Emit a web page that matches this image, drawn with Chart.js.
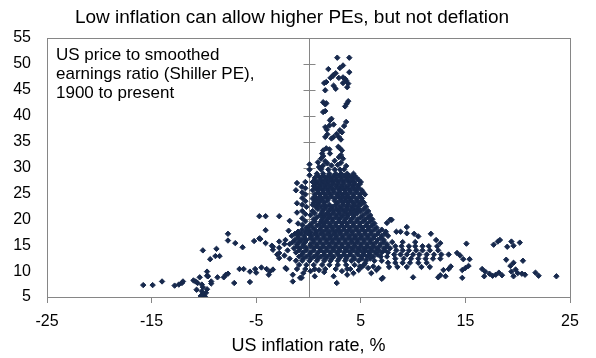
<!DOCTYPE html>
<html>
<head>
<meta charset="utf-8">
<script src="https://cdn.jsdelivr.net/npm/chart.js@4.4.0/dist/chart.umd.min.js"></script>
<style>
  html, body { margin: 0; padding: 0; background: #fff; }
</style>
</head>
<body>
<canvas id="scatter" width="596" height="358"></canvas>
<script>
// [inflation %, Shiller PE] pairs
var deflationYears = [[-15.8,7.3],[-14.9,7.3],[-14.0,8.0],[-12.8,7.2],[-12.4,7.4],[-12.1,7.7],[-12.0,8.0],[-11.0,8.2],[-10.8,8.0],[-10.6,7.7],[-10.4,8.8],[-10.2,7.4],[-10.1,6.9],[-10.7,6.4],[-10.2,6.1],[-10.1,5.6],[-9.8,5.8],[-9.9,5.1],[-10.3,5.2],[-9.7,6.5],[-9.7,9.9],[-9.7,9.1],[-9.6,9.0],[-9.3,7.6],[-9.3,8.0],[-10.1,14.0],[-9.4,12.3],[-8.9,12.9],[-8.5,12.9],[-8.8,14.3],[-8.7,8.8],[-8.1,8.8],[-7.9,9.3],[-7.7,9.5],[-7.7,17.2],[-7.7,15.9],[-7.0,15.4],[-7.1,7.7],[-6.6,10.4],[-6.3,14.6],[-6.2,10.4],[-5.6,9.9],[-5.6,7.9],[-5.2,15.8],[-5.1,10.4],[-5.0,9.7],[-4.7,16.3],[-4.7,20.6],[-4.6,16.2],[-4.5,10.7],[-4.1,15.4],[-4.0,10.4],[-3.7,9.9],[-3.4,10.3],[-3.8,9.3],[-2.2,10.6],[-2.1,10.4],[-1.5,9.3],[-1.5,8.0],[-0.8,8.7],[-0.65,8.7],[-0.5,9.6]];

var lowInflationEdge = [[-4.1,20.6],[-2.8,20.6],[-4.1,17.9],[-1.8,19.7],[-1.9,17.8],[-1.1,27.0],[-1.2,25.6],[-1.1,23.1],[-1.1,21.3],[-1.0,19.2],[-1.0,17.3],[-0.65,26.3],[-0.6,25.2],[-0.6,24.1],[-0.6,22.8],[-0.6,21.6],[-0.6,20.2],[-0.6,18.9],[-0.3,27.2],[-0.3,26.0],[-0.3,24.8],[-0.3,23.5],[-0.2,22.4],[-0.3,21.0],[-0.3,19.6],[0.1,28.5],[0.1,29.6],[0.1,30.6],[-3.4,14.7],[-3.4,14.1],[-3.0,13.2],[-2.8,15.7],[-2.8,14.5],[-2.8,13.5],[-2.8,12.5],[-2.3,15.2],[-2.3,13.0],[-2.0,14.0],[-1.8,12.4],[-3.5,14.9],[-2.2,16.0]];

// dense core: PE level with the inflation readings seen along it
var coreRows = [
  [29.6, [1.2,1.9,2.5,3.0,3.4]],
  [28.8, [0.8,1.4,2.0,2.6,3.1,3.7,4.3]],
  [28.4, [0.9,1.4,1.9,2.4,2.9,3.4,3.9,4.4]],
  [28.0, [0.6,1.1,1.6,2.1,2.6,3.1,3.6,4.1,4.6]],
  [27.6, [0.6,1.2,1.7,2.2,2.7,3.2,3.7,4.2,4.8]],
  [27.2, [0.4,0.9,1.4,1.9,2.4,2.9,3.4,3.9,4.4,5.0]],
  [26.8, [0.7,1.2,1.7,2.3,2.8,3.3,3.9,4.4,4.9]],
  [26.4, [0.5,1.0,1.5,2.0,2.6,3.1,3.6,4.2,4.7]],
  [26.0, [0.7,1.2,1.7,2.2,2.8,3.3,3.8,4.3,4.8]],
  [25.6, [0.4,0.9,1.4,1.9,2.4,3.0,3.5,4.0,4.5,5.1]],
  [25.2, [0.9,1.4,1.9,2.4,2.9,3.5,4.0,4.6,5.2]],
  [24.8, [0.6,1.1,1.6,2.1,2.7,3.2,3.7,4.3,4.9,5.4]],
  [24.4, [0.6,1.1,1.7,2.2,2.8,3.3,3.8,4.3,4.9]],
  [24.0, [0.4,0.9,1.4,1.9,2.5,3.0,3.5,4.0,4.6,5.1]],
  [23.6, [0.7,1.2,1.8,2.5,3.1,3.6,4.1,4.6,5.1]],
  [23.2, [0.5,1.0,1.5,2.8,3.3,3.8,4.3,4.8,5.3]],
  [22.8, [0.4,0.9,1.5,2.0,2.6,3.3,3.8,4.4,5.0]],
  [22.4, [0.7,1.2,1.7,2.3,3.0,3.6,4.1,4.7,5.5]],
  [22.0, [0.9,1.5,2.1,2.7,3.2,3.7,4.3,4.8,5.3]],
  [21.6, [0.4,1.3,1.9,2.4,2.9,3.4,4.0,4.5,5.0,5.7]],
  [21.2, [0.6,1.3,1.8,2.4,3.0,3.6,4.1,4.7,5.5]],
  [20.8, [0.2,1.1,1.6,2.1,2.7,3.3,3.8,4.4,5.2,5.9]],
  [20.4, [0.8,1.4,2.0,2.6,3.1,3.7,4.3,5.0,5.7]],
  [20.0, [0.5,1.3,1.8,2.3,2.9,3.5,4.1,4.7,5.4,6.1]],
  [19.6, [0.6,1.2,1.7,2.3,2.9,3.4,4.0,4.6,5.2,5.9]],
  [19.2, [0.3,1.1,1.5,2.0,2.6,3.2,3.7,4.3,4.9,5.6,6.3]],
  [18.8, [0.1,0.8,1.5,2.1,2.6,3.2,3.7,4.3,4.9,5.5,6.1]],
  [18.4, [-0.2,0.4,1.2,1.8,2.3,2.9,3.4,4.0,4.6,5.2,5.8,6.5]],
  [18.0, [-0.6,0.0,0.6,1.1,1.7,2.3,2.8,3.4,3.9,4.5,5.1,5.7,6.3,7.0]],
  [17.6, [-1.0,-0.3,0.2,0.8,1.4,2.0,2.6,3.1,3.7,4.2,4.8,5.4,6.0,6.7,7.4]],
  [17.2, [-1.3,-0.7,0.0,0.6,1.2,1.8,2.4,3.0,3.6,4.2,4.8,5.4,6.0,6.6,7.3]],
  [16.8, [-1.6,-1.0,-0.4,0.3,0.9,1.5,2.1,2.7,3.3,3.9,4.5,5.1,5.7,6.3,7.0,7.6]],
  [16.4, [-1.0,-0.4,0.2,0.8,1.4,2.0,2.6,3.2,3.8,4.4,5.0,5.6,6.2,6.9]],
  [16.0, [-1.3,-0.7,-0.2,0.5,1.1,1.7,2.3,2.9,3.5,4.1,4.7,5.3,5.9,6.6,7.2]],
  [15.6, [-1.5,-0.9,-0.3,0.5,1.1,1.7,2.3,2.9,3.5,4.1,4.7,5.3,5.9,6.5,7.2]],
  [15.2, [-1.8,-1.1,-0.5,0.2,0.8,1.4,2.0,2.6,3.2,3.8,4.4,5.0,5.6,6.2,6.9,7.5]],
  [14.8, [-1.1,-0.5,0.2,0.8,1.4,2.0,2.6,3.2,3.8,4.4,5.0,5.6,6.2,6.8,7.5]],
  [14.4, [-1.4,-0.8,-0.2,0.5,1.1,1.7,2.3,2.9,3.5,4.1,4.7,5.3,5.9,6.5,7.2,7.8]],
  [14.0, [-0.9,-0.2,0.5,1.2,1.8,2.4,3.0,3.7,4.3,4.9,5.5,6.1,6.7,7.3]],
  [13.6, [-1.2,-0.5,0.2,0.9,1.5,2.1,2.7,3.4,4.0,4.6,5.2,5.8,6.4,7.0,7.6]],
  [13.2, [-0.6,0.1,0.8,1.5,2.1,2.8,3.4,4.0,4.7,5.3,5.9,6.6]],
  [12.8, [-0.9,-0.2,0.5,1.2,1.8,2.4,3.1,3.7,4.3,5.0,5.6,6.2,6.9,7.5]],
  [12.4, [-0.5,0.2,0.9,1.6,2.2,2.9,3.6,4.4,5.1,5.9]],
  [12.0, [-1.2,-0.6,0.1,0.8,1.5,2.1,2.8,3.5,4.1,4.8,5.5,6.3,7.0]],
  [11.2, [-0.9,-0.2,0.5,1.3,2.0,2.8,3.6,4.4,5.3]],
  [10.4, [-1.1,-0.3,0.6,1.6,2.6,3.7]]
];

var highInflationRows = [
  [15.6, [8.0,9.0,10.2]],
  [14.8, [8.3,8.9,9.6,10.2,10.9,11.5,12.3]],
  [14.0, [8.4,9.0,9.6,10.3,10.9,11.6,12.4]],
  [13.2, [8.2,8.8,9.4,10.0,10.6,11.3,12.0,12.7,13.4]],
  [12.4, [8.3,9.1,9.8,10.5,11.2,11.9,12.6]],
  [11.6, [7.6,8.3,9.0,9.7,10.5,11.3]],
  [10.8, [7.7,8.5,9.4,10.8,11.6]]
];

var coreFringe = [[2.7,7.7],[2.4,9.0],[3.7,9.3],[4.3,9.6],[4.9,10.9],[5.4,11.5],[5.7,10.6],[6.2,10.9],[6.7,10.6],[7.1,8.7],[6.0,9.6],[6.5,10.2],[4.8,10.2],[5.1,10.8],[7.0,8.5],[0.6,9.0],[0.2,10.0],[1.5,9.8],[1.0,10.2],[3.2,10.0],[4.0,10.4],[7.95,19.9],[7.5,19.3],[7.8,19.9],[8.4,17.6],[8.8,17.6],[9.4,18.5],[9.4,17.3],[10.1,17.2],[10.5,16.7],[11.7,17.2],[12.2,16.0],[12.6,15.4]];

var highInflationTail = [[15.1,15.3],[10.0,8.8],[12.4,8.8],[12.6,9.2],[13.1,9.0],[12.9,10.2],[13.4,10.4],[13.6,10.9],[14.2,13.5],[14.5,13.0],[14.8,12.3],[15.4,12.3],[14.7,10.2],[15.0,10.6],[15.3,11.0],[14.7,8.7],[16.6,10.4],[16.9,9.9],[16.8,9.0],[17.3,9.5],[17.6,9.1],[17.9,9.3],[18.2,9.7],[18.5,9.2],[17.7,15.1],[18.1,15.7],[18.3,16.0],[19.0,14.7],[19.4,15.7],[19.6,14.9],[20.2,15.5],[18.9,12.2],[19.3,11.0],[19.6,11.6],[20.5,12.0],[19.4,9.9],[19.8,10.3],[20.0,9.6],[20.4,9.5],[20.7,9.3],[19.6,9.0],[21.7,9.7],[22.0,9.1],[23.7,9.0]];

var bubbleSpike = [[2.75,51.2],[3.9,51.2],[3.3,49.7],[3.0,49.2],[1.9,49.0],[2.6,48.2],[2.4,47.9],[3.9,48.4],[2.1,47.3],[2.3,47.6],[2.9,47.3],[3.3,47.4],[3.5,47.1],[1.7,46.5],[1.5,46.3],[3.3,46.3],[3.6,46.8],[2.4,45.8],[3.7,45.5],[3.8,46.2],[1.6,44.9],[2.6,45.2],[1.4,42.6],[1.6,42.2],[1.7,42.4],[1.4,40.7],[1.6,40.9],[3.8,42.8],[3.65,42.3],[3.5,41.8],[2.05,39.1],[2.2,39.4],[2.0,38.1],[1.6,37.8],[1.75,37.3],[2.4,38.3],[1.8,36.4],[1.6,35.9],[3.6,38.8],[3.4,38.0],[3.0,37.2],[3.2,36.8],[2.2,35.6],[2.4,35.9],[2.7,36.5],[2.9,35.9],[3.1,35.4],[1.4,33.3],[1.7,33.7],[1.3,32.7],[1.2,31.7],[1.4,32.2],[2.0,33.5],[2.05,32.7],[2.85,34.0],[3.0,33.7],[3.2,33.3],[3.1,32.4],[2.9,32.0],[3.3,31.7],[1.4,30.4],[1.2,29.8],[1.0,30.1],[1.8,30.8],[2.2,30.4],[2.8,30.5],[3.1,30.9],[3.6,30.3],[0.9,31.0],[1.6,31.2],[2.5,31.3]];

var xTicks = [-25, -15, -5, 5, 15, 25];
var yTicks = [5, 10, 15, 20, 25, 30, 35, 40, 45, 50, 55];
var chartTitle = 'Low inflation can allow higher PEs, but not deflation';
var noteLines = ['US price to smoothed', 'earnings ratio (Shiller PE),', '1900 to present'];
var xTitle = 'US inflation rate, %';

var points = [];
[deflationYears, lowInflationEdge, coreFringe, highInflationTail, bubbleSpike].forEach(function(list) {
  list.forEach(function(p) { points.push({x: p[0], y: p[1]}); });
});
[coreRows, highInflationRows].forEach(function(rows) {
  rows.forEach(function(r) {
    r[1].forEach(function(v) { points.push({x: v, y: r[0]}); });
  });
});

var fontFamily = "'Liberation Sans', Arial, sans-serif";
Chart.defaults.font.family = fontFamily;
Chart.defaults.color = '#000';

var framePlugin = {
  id: 'frame',
  beforeDatasetsDraw: function(chart) {
    var ctx = chart.ctx, a = chart.chartArea;
    var xs = chart.scales.x, ys = chart.scales.y;
    ctx.save();
    ctx.strokeStyle = '#868686';
    ctx.lineWidth = 1;
    ctx.strokeRect(Math.round(a.left) + 0.5, Math.round(a.top) + 0.5, Math.round(a.right - a.left), Math.round(a.bottom - a.top));
    var x0 = Math.round(xs.getPixelForValue(0)) + 0.5;
    ctx.beginPath();
    ctx.moveTo(x0, a.top);
    ctx.lineTo(x0, a.bottom);
    yTicks.forEach(function(v) {
      var py = Math.round(ys.getPixelForValue(v)) + 0.5;
      ctx.moveTo(x0 - 6, py);
      ctx.lineTo(x0 + 6, py);
    });
    ctx.stroke();

    ctx.fillStyle = '#000';
    ctx.textBaseline = 'middle';
    ctx.textAlign = 'center';
    ctx.font = '19px ' + fontFamily;
    ctx.fillText(chartTitle, 292, 18);

    ctx.textAlign = 'left';
    ctx.font = '17px ' + fontFamily;
    noteLines.forEach(function(line, i) {
      ctx.fillText(line, a.left + 9, a.top + 17 + i * 19);
    });
    ctx.restore();
  }
};

new Chart(document.getElementById('scatter'), {
  type: 'scatter',
  data: {
    datasets: [{
      data: points,
      pointStyle: 'rectRot',
      pointRadius: 2.7,
      borderWidth: 1,
      backgroundColor: '#17294d',
      borderColor: '#17294d'
    }]
  },
  options: {
    responsive: false,
    animation: false,
    layout: { padding: { left: 0, right: 26, top: 38, bottom: 0 } },
    plugins: {
      legend: { display: false },
      tooltip: { enabled: false },
      title: { display: false }
    },
    scales: {
      x: {
        type: 'linear',
        min: -25,
        max: 25,
        afterBuildTicks: function(scale) { scale.ticks = xTicks.map(function(v) { return {value: v}; }); },
        afterFit: function(scale) { scale.height = 61; },
        border: { display: false },
        grid: { drawOnChartArea: false, tickLength: 6, color: '#868686' },
        ticks: { font: { size: 16 }, padding: 9, maxRotation: 0 },
        title: { display: true, text: xTitle, font: { size: 18 }, padding: { top: 0, bottom: 1 } }
      },
      y: {
        min: 5,
        max: 55,
        afterBuildTicks: function(scale) { scale.ticks = yTicks.map(function(v) { return {value: v}; }); },
        afterFit: function(scale) { scale.width = 47; },
        border: { display: false },
        grid: { display: false, drawTicks: false },
        ticks: { font: { size: 16 }, padding: 16 }
      }
    }
  },
  plugins: [framePlugin]
});
</script>
</body>
</html>
